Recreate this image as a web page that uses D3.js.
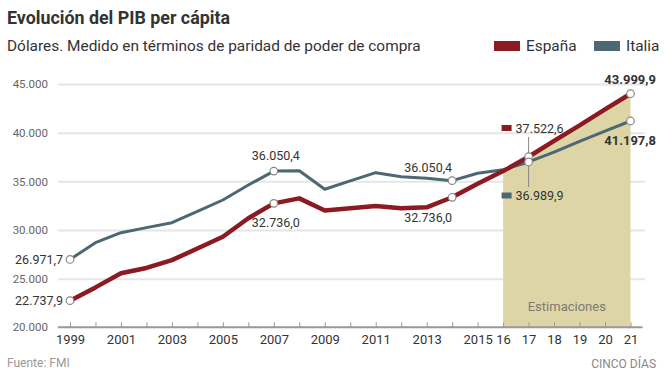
<!DOCTYPE html>
<html>
<head>
<meta charset="utf-8">
<script src="https://cdn.jsdelivr.net/npm/d3@7"></script>
<style>
  body { margin: 0; background: #fff; }
  text { font-family: Roboto, "Liberation Sans", sans-serif; }
</style>
</head>
<body>
<svg id="chart" width="664" height="371"></svg>
<script>
// -------- data --------
var years  = [1999, 2000, 2001, 2002, 2003, 2004, 2005, 2006, 2007, 2008, 2009, 2010,
              2011, 2012, 2013, 2014, 2015, 2016, 2017, 2018, 2019, 2020, 2021];
var espana = [22737.9, 24100, 25550, 26100, 26900, 28100, 29300, 31200, 32736.0, 33250, 32000, 32230,
              32470, 32230, 32330, 33360, 34750, 36050, 37522.6, 39150, 40750, 42400, 43999.9];
var italia = [26971.7, 28700, 29720, 30240, 30750, 31900, 33080, 34620, 36050.4, 36090, 34180, 35040,
              35890, 35480, 35310, 35070, 35830, 36200, 36989.9, 38000, 39100, 40150, 41197.8];
var yTicks = [20000, 25000, 30000, 35000, 40000, 45000];
var xTickLabels = ["1999", "", "2001", "", "2003", "", "2005", "", "2007", "", "2009", "",
                   "2011", "", "2013", "", "2015", "16", "17", "18", "19", "20", "21"];
var estimStart = 2016;

// labels printed on the chart (text as in the original)
var espanaLabels = [[1999, "22.737,9"], [2007, "32.736,0"], [2014, "32.736,0"], [2017, "37.522,6"], [2021, "43.999,9"]];
var italiaLabels = [[1999, "26.971,7"], [2007, "36.050,4"], [2014, "36.050,4"], [2017, "36.989,9"], [2021, "41.197,8"]];

var RED = "#8c1a22", BLUE = "#4d6773";

var svg = d3.select("#chart");

// -------- scales --------
var xScale = d3.scaleLinear().domain([1999, 2021]).range([70, 630.5]);
var yScale = d3.scaleLinear().domain([20000, 45000]).range([327.3, 84]);

var espanaData = years.map(function(y, i) { return {year: y, value: espana[i]}; });
var italiaData = years.map(function(y, i) { return {year: y, value: italia[i]}; });

// -------- header --------
svg.append("text")
    .attr("x", 7).attr("y", 23.5)
    .attr("textLength", 223).attr("lengthAdjust", "spacingAndGlyphs")
    .style("font-size", "19px").style("font-weight", "bold").style("fill", "#333")
    .text("Evolución del PIB per cápita");

svg.append("text")
    .attr("x", 7).attr("y", 51)
    .style("font-size", "15.4px").style("fill", "#333")
    .text("Dólares. Medido en términos de paridad de poder de compra");

// legend
var legend = [["España", RED, 494], ["Italia", BLUE, 594]];
legend.forEach(function(l) {
  svg.append("rect").attr("x", l[2]).attr("y", 41).attr("width", 26).attr("height", 10).style("fill", l[1]);
  svg.append("text").attr("x", l[2] + 32).attr("y", 51)
      .style("font-size", "15.4px").style("fill", "#333").text(l[0]);
});

// -------- y axis / gridlines --------
var yAxis = svg.append("g")
    .attr("transform", "translate(58,0)")
    .call(d3.axisLeft(yScale).tickValues(yTicks).tickSize(-587).tickPadding(10)
          .tickFormat(function(d) { return d3.format(",")(d).replace(/,/g, "."); }));
yAxis.select(".domain").remove();
yAxis.selectAll(".tick line").style("stroke", "#e6e6e6").style("stroke-width", 2)
    .filter(function(d) { return d == 20000; }).remove();
yAxis.selectAll(".tick text").style("font-size", "11.5px").style("fill", "#666")
    .style("font-family", "Roboto, sans-serif");

// -------- estimates area --------
var area = d3.area()
    .x(function(d) { return xScale(d.year); })
    .y0(yScale(20000))
    .y1(function(d) { return yScale(d.value); });
svg.append("path")
    .datum(espanaData.filter(function(d) { return d.year >= estimStart; }))
    .attr("d", area)
    .style("fill", "#ded5a6");

svg.append("text")
    .attr("x", xScale(2018.5)).attr("y", 311)
    .attr("text-anchor", "middle")
    .style("font-size", "13px").style("fill", "#7d7b70")
    .text("Estimaciones");

// -------- x axis --------
var xAxis = svg.append("g")
    .attr("transform", "translate(0," + yScale(20000) + ")")
    .call(d3.axisBottom(xScale).tickValues(years).tickSizeInner(-5).tickSizeOuter(0).tickPadding(7)
          .tickFormat(function(d, i) { return xTickLabels[i]; }));
xAxis.select(".domain").remove();
xAxis.append("line")
    .attr("x1", xScale(1999) - 12).attr("x2", xScale(2021) + 12)
    .style("stroke", "#999").style("stroke-width", 2);
xAxis.selectAll(".tick line").style("stroke", "#999").style("stroke-width", 1);
xAxis.selectAll(".tick text").style("font-size", "13px").style("fill", "#333")
    .style("font-family", "Roboto, sans-serif");

// -------- lines --------
var line = d3.line()
    .x(function(d) { return xScale(d.year); })
    .y(function(d) { return yScale(d.value); });

svg.append("path").datum(italiaData).attr("d", line)
    .style("fill", "none").style("stroke", BLUE).style("stroke-width", 3).style("stroke-linejoin", "round");
svg.append("path").datum(espanaData).attr("d", line)
    .style("fill", "none").style("stroke", RED).style("stroke-width", 4.5).style("stroke-linejoin", "round");

// -------- labels --------
function valueAt(data, year) {
  return data.filter(function(d) { return d.year == year; })[0].value;
}

// leader lines for 2017
var x17 = xScale(2017);
svg.append("line").attr("x1", x17).attr("x2", x17).attr("y1", 137).attr("y2", yScale(valueAt(espanaData, 2017)))
    .style("stroke", "#888").style("stroke-width", 1);
svg.append("line").attr("x1", x17).attr("x2", x17).attr("y1", yScale(valueAt(italiaData, 2017))).attr("y2", 187)
    .style("stroke", "#888").style("stroke-width", 1);

// isSpain: Spain labels sit below the line in history, above it in the estimates
function drawLabels(labels, data, color, isSpain) {
  labels.forEach(function(l) {
    var year = l[0], txt = l[1];
    var cx = xScale(year), cy = yScale(valueAt(data, year));
    var t = svg.append("text").style("font-size", "12.5px").style("fill", "#333").text(txt);
    if (year == 1999) {
      t.attr("x", cx - 7).attr("y", cy + 4.5).attr("text-anchor", "end");
    } else if (year == 2007) {
      t.attr("x", cx + 2).attr("y", isSpain ? cy + 24 : cy - 11).attr("text-anchor", "middle");
    } else if (year == 2014) {
      t.attr("x", cx).attr("y", isSpain ? cy + 25 : cy - 9).attr("text-anchor", "end");
    } else if (year == 2017) {
      var ty = isSpain ? 132.5 : 200;
      svg.append("rect").attr("x", cx - 27).attr("y", ty - 7.5).attr("width", 10).attr("height", 6).style("fill", color);
      t.attr("x", cx - 13).attr("y", ty);
    } else if (year == 2021) {
      t.attr("x", 656).attr("y", isSpain ? cy - 10 : cy + 24).attr("text-anchor", "end")
          .style("font-weight", "bold").style("font-size", "13px");
    }
  });
}
drawLabels(espanaLabels, espanaData, RED, true);
drawLabels(italiaLabels, italiaData, BLUE, false);

// circles
var circleData = [];
espanaLabels.forEach(function(l) { circleData.push({year: l[0], value: valueAt(espanaData, l[0])}); });
italiaLabels.forEach(function(l) { circleData.push({year: l[0], value: valueAt(italiaData, l[0])}); });
svg.selectAll("circle.pt").data(circleData).enter().append("circle")
    .attr("class", "pt")
    .attr("cx", function(d) { return xScale(d.year); })
    .attr("cy", function(d) { return yScale(d.value); })
    .attr("r", 3.8)
    .style("fill", "#fff").style("stroke", "#888").style("stroke-width", 1.2);

// -------- footer --------
svg.append("text").attr("x", 7).attr("y", 367)
    .style("font-size", "12px").style("fill", "#999").text("Fuente: FMI");
svg.append("text").attr("x", 656).attr("y", 368).attr("text-anchor", "end")
    .style("font-size", "12px").style("fill", "#888").text("CINCO DÍAS");
</script>
</body>
</html>
